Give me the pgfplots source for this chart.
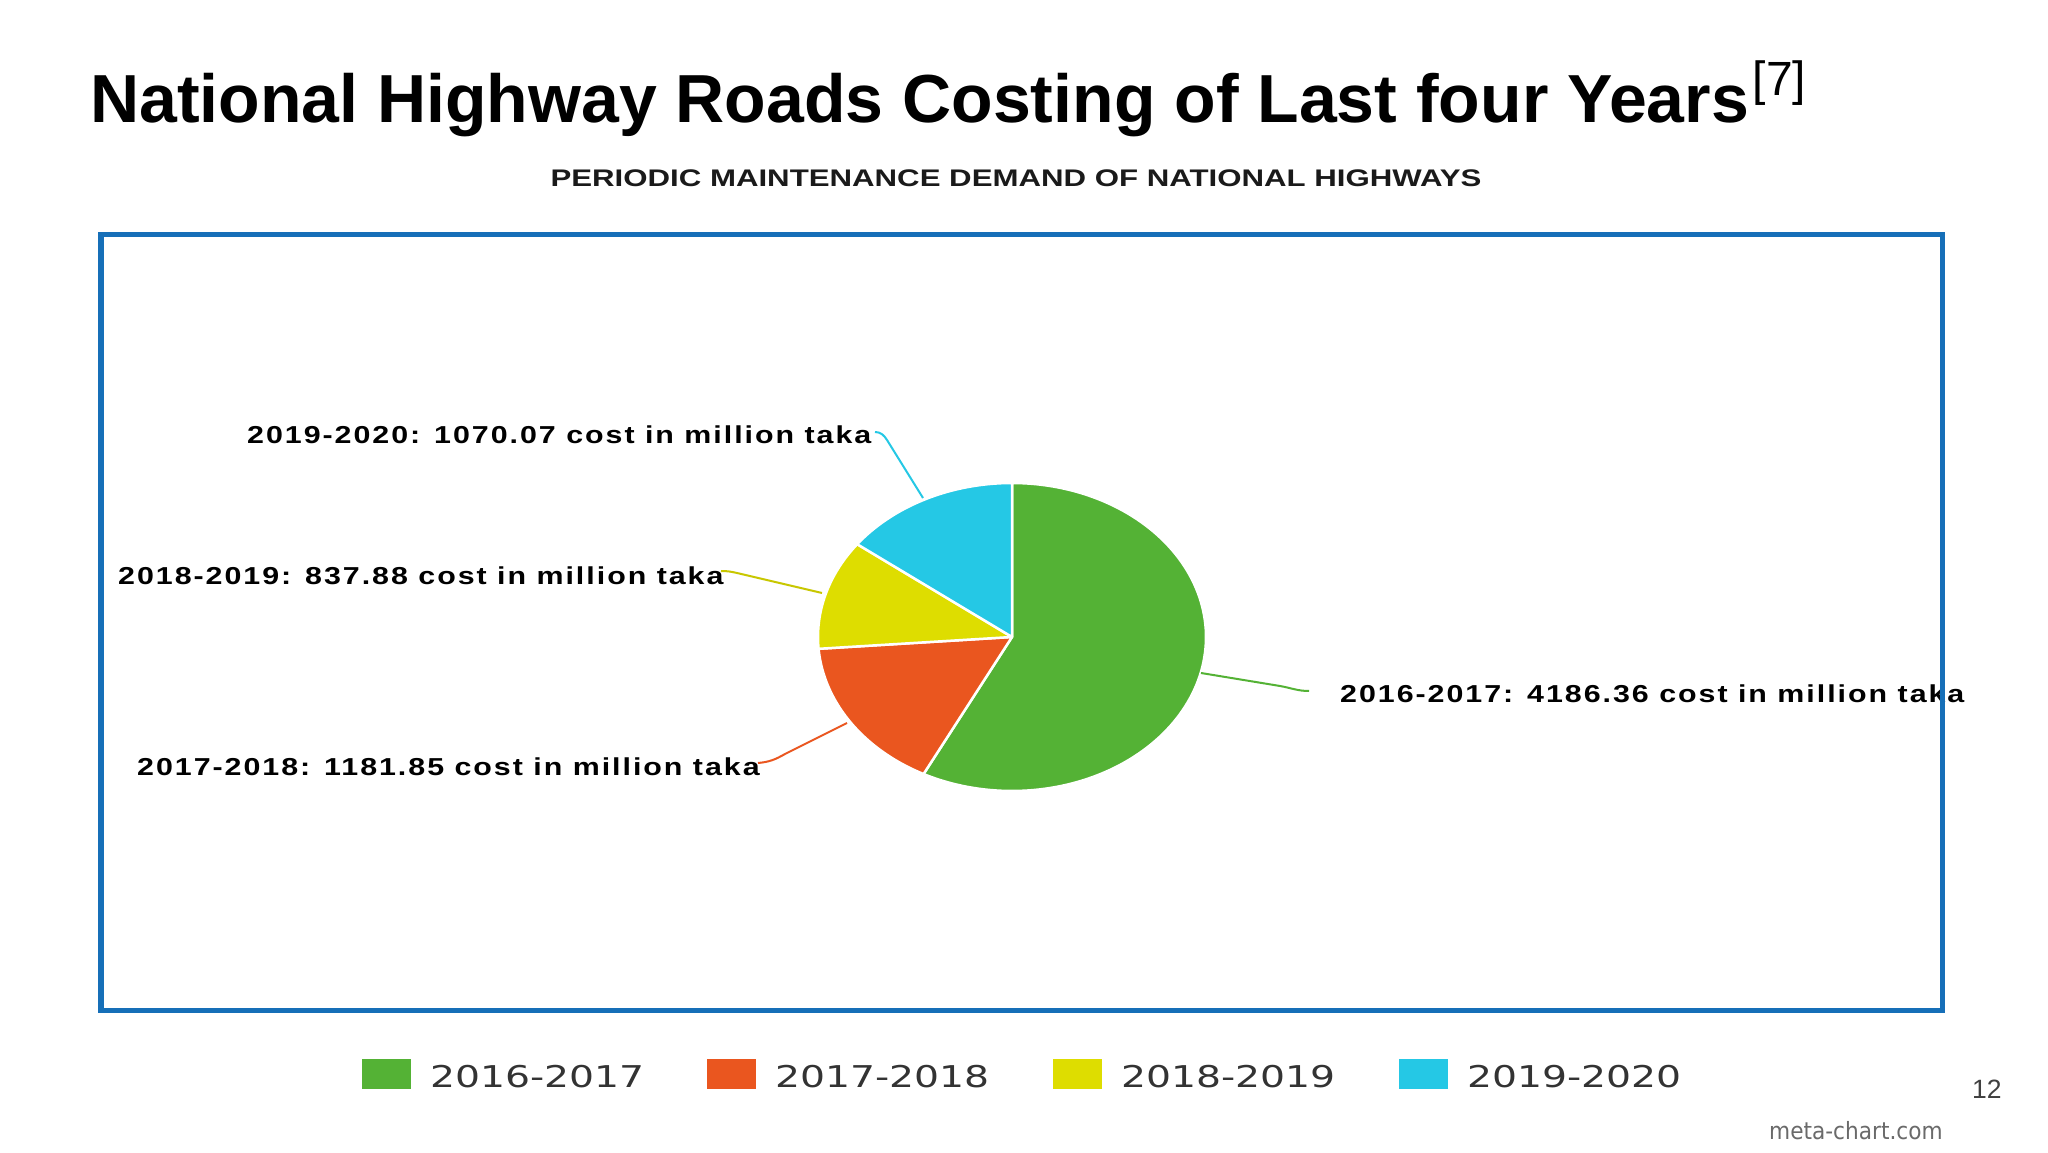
\documentclass[border=0pt]{standalone}
\usepackage{fontspec}
\setmainfont{Liberation Sans}
\newfontfamily\labfont{Liberation Sans}[LetterSpace=6.5]
\newfontfamily\dejavu{DejaVu Sans}
\usepackage{graphicx}
\usepackage{pgfplots}
\usepackage{pgfplotstable}
\pgfplotsset{compat=1.18}
\definecolor{cgreen}{RGB}{84,178,53}
\definecolor{corange}{RGB}{234,86,31}
\definecolor{cyellow}{RGB}{222,221,0}
\definecolor{ccyan}{RGB}{37,200,229}
\definecolor{cframe}{RGB}{22,111,184}
\definecolor{legtext}{RGB}{51,51,51}
\definecolor{pagenum}{RGB}{64,64,64}
\definecolor{metatext}{RGB}{106,106,106}
\definecolor{subtext}{RGB}{26,26,26}

\pgfplotstableread{
year value
2016-2017 4186.36
2017-2018 1181.85
2018-2019 837.88
2019-2020 1070.07
}\pietable

\begin{document}
\begin{tikzpicture}
\pgfplotstablegetelem{0}{value}\of\pietable \let\vA\pgfplotsretval
\pgfplotstablegetelem{1}{value}\of\pietable \let\vB\pgfplotsretval
\pgfplotstablegetelem{2}{value}\of\pietable \let\vC\pgfplotsretval
\pgfplotstablegetelem{3}{value}\of\pietable \let\vD\pgfplotsretval
\pgfmathsetmacro\tot{\vA+\vB+\vC+\vD}
\pgfmathsetmacro\fA{\vA/\tot}
\pgfmathsetmacro\fB{\vB/\tot}
\pgfmathsetmacro\fC{\vC/\tot}
\pgfmathsetmacro\aA{90-360*\fA}
\pgfmathsetmacro\aB{\aA-360*\fB}
\pgfmathsetmacro\aC{\aB-360*\fC}
\pgfmathsetmacro\aD{-270}
\fill[white] (0,0) rectangle (2048pt,1152pt);
\begin{axis}[at={(0,0)}, anchor=south west, scale only axis,
  width=2048pt, height=1152pt, xmin=0, xmax=2048, ymin=0, ymax=1152,
  hide axis, clip=false]
% pie slices
\fill[cgreen, draw=white, line width=2.5pt, line join=round] (1012,515) -- plot[variable=\t, domain=\aA:90, samples=120] ({1012+194*cos(\t)},{515+154*sin(\t)}) -- cycle;
\fill[corange, draw=white, line width=2.5pt, line join=round] (1012,515) -- plot[variable=\t, domain=\aB:\aA, samples=60] ({1012+194*cos(\t)},{515+154*sin(\t)}) -- cycle;
\fill[cyellow, draw=white, line width=2.5pt, line join=round] (1012,515) -- plot[variable=\t, domain=\aC:\aB, samples=60] ({1012+194*cos(\t)},{515+154*sin(\t)}) -- cycle;
\fill[ccyan, draw=white, line width=2.5pt, line join=round] (1012,515) -- plot[variable=\t, domain=\aD:\aC, samples=60] ({1012+194*cos(\t)},{515+154*sin(\t)}) -- cycle;
% leader lines
\draw[cgreen, line width=2pt] (1201,479) -- (1280,466) to[out=-10,in=180] (1309,461);
\draw[corange, line width=2pt] (758,389) to[out=5,in=210] (785,398) -- (847,429);
\draw[ccyan, line width=2pt] (875,720) to[out=0,in=122] (887,712) -- (923,654);
\draw[cyellow!90!black, line width=2pt] (721,581) to[out=0,in=167] (737,579) -- (822,559);
% labels
\node[anchor=base west, inner sep=0] at (247,708) {\scalebox{1.24}[1]{\labfont\fontsize{24.5}{29}\selectfont\bfseries 2019-2020: 1070.07 cost in million taka}};
\node[anchor=base west, inner sep=0] at (118,567) {\scalebox{1.24}[1]{\labfont\fontsize{24.5}{29}\selectfont\bfseries 2018-2019: 837.88 cost in million taka}};
\node[anchor=base west, inner sep=0] at (137,376) {\scalebox{1.24}[1]{\labfont\fontsize{24.5}{29}\selectfont\bfseries 2017-2018: 1181.85 cost in million taka}};
\node[anchor=base west, inner sep=0] at (1340,449) {\scalebox{1.24}[1]{\labfont\fontsize{24.5}{29}\selectfont\bfseries 2016-2017: 4186.36 cost in million taka}};
% frame
\draw[cframe, line width=5.5pt] (101,917.5) rectangle (1942.5,141.5);
% titles
\node[anchor=base west, inner sep=0] at (90,1029) {\fontsize{68}{80}\selectfont\bfseries National Highway Roads Costing of Last four Years\kern4pt\raisebox{27pt}{\fontsize{48}{54}\selectfont\mdseries[7]}};
\node[anchor=base, inner sep=0, text=subtext] at (1016,965) {\scalebox{1.30}[1]{\fontsize{24}{28}\selectfont\bfseries PERIODIC MAINTENANCE DEMAND OF NATIONAL HIGHWAYS}};
% legend
\fill[cgreen] (362,63) rectangle (411,93);
\node[anchor=base west, inner sep=0, text=legtext] at (430,65) {\scalebox{1.31}[1]{\dejavu\fontsize{30}{36}\selectfont 2016-2017}};
\fill[corange] (707,63) rectangle (756,93);
\node[anchor=base west, inner sep=0, text=legtext] at (775,65) {\scalebox{1.31}[1]{\dejavu\fontsize{30}{36}\selectfont 2017-2018}};
\fill[cyellow] (1053,63) rectangle (1102,93);
\node[anchor=base west, inner sep=0, text=legtext] at (1121,65) {\scalebox{1.31}[1]{\dejavu\fontsize{30}{36}\selectfont 2018-2019}};
\fill[ccyan] (1399,63) rectangle (1448,93);
\node[anchor=base west, inner sep=0, text=legtext] at (1467,65) {\scalebox{1.31}[1]{\dejavu\fontsize{30}{36}\selectfont 2019-2020}};
% page number and credit
\node[anchor=base west, inner sep=0, text=pagenum] at (1972,54) {\fontsize{26.5}{30}\selectfont 12};
\node[anchor=base west, inner sep=0, text=metatext] at (1769,13) {\scalebox{0.91}[1]{\dejavu\fontsize{23.8}{28}\selectfont meta-chart.com}};
\end{axis}
\end{tikzpicture}
\end{document}
